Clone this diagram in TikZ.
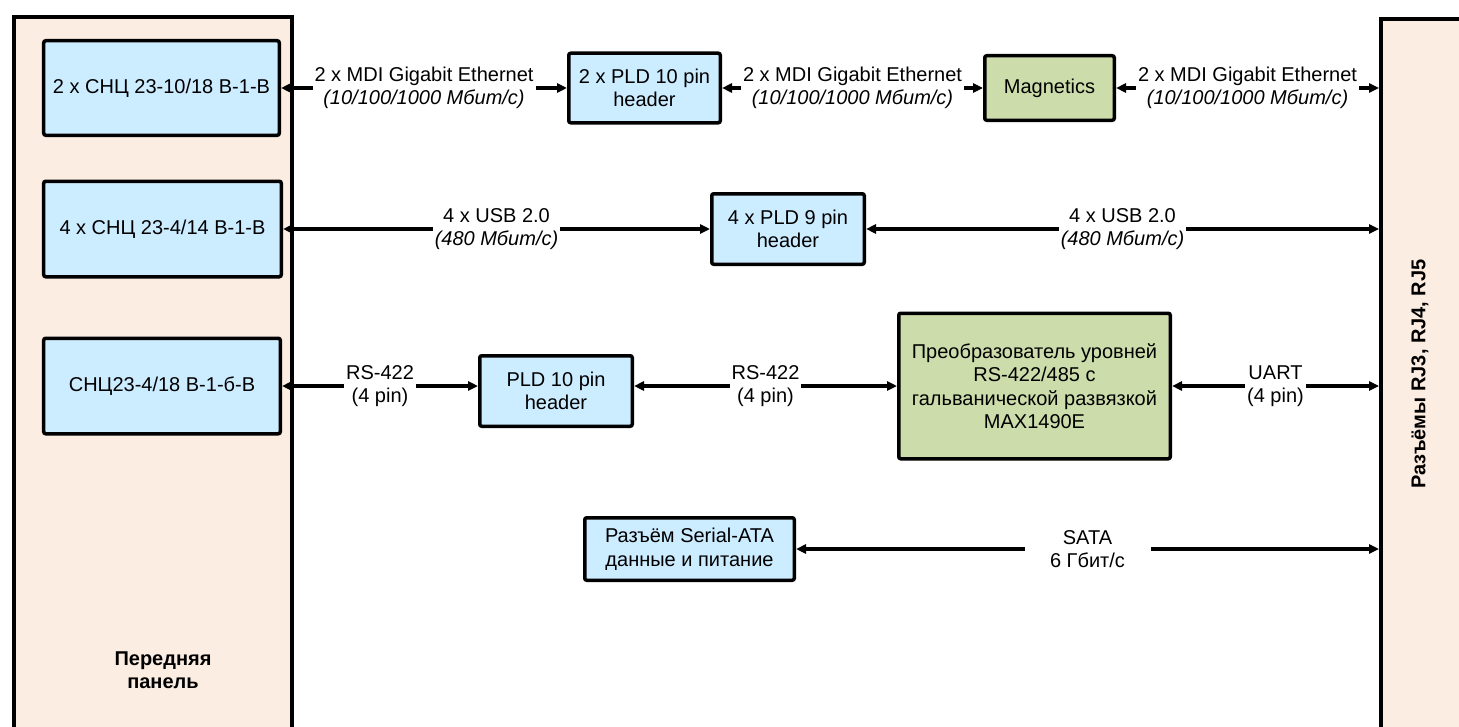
\documentclass[tikz,border=0pt]{standalone}
\usepackage{fontspec}
\setmainfont{Liberation Sans}
\usetikzlibrary{arrows.meta}
\definecolor{peach}{RGB}{252,237,227}
\definecolor{boxblue}{RGB}{204,236,255}
\definecolor{boxgreen}{RGB}{204,220,170}
\begin{document}
\begin{tikzpicture}[x=1bp,y=-1bp,
  every node/.style={font=\fontsize{20bp}{23.5bp}\selectfont},
  panel/.style={fill=peach, inner sep=0pt, outer sep=2bp, anchor=north west},
  panelborder/.style={line width=4bp, line cap=rect},
  bx/.style={draw, line width=3.5bp, fill=boxblue, rounded corners=2bp, align=center, inner sep=0pt},
  gbx/.style={bx, fill=boxgreen},
  lbl/.style={fill=white, inner xsep=2bp, inner ysep=1bp, align=center},
  conn/.style={line width=3.5bp, arrows={Triangle[length=10bp,width=9bp]-Triangle[length=10bp,width=9bp]}}
]
\useasboundingbox (0,0) rectangle (1459,727);
% panels
\node[panel, minimum width=278bp, minimum height=760bp] (lp) at (12,15.5) {};
\draw[panelborder] ([xshift=2bp,yshift=-2bp]lp.south west) |- ([xshift=-2bp,yshift=-2bp]lp.north east) -- ([xshift=-2bp,yshift=2bp]lp.south east);
\node[panel, minimum width=120bp, minimum height=760bp] (rp) at (1379,17) {};
\draw[panelborder] ([xshift=2bp,yshift=2bp]rp.south west) |- ([xshift=-2bp,yshift=-2bp]rp.north east);
\node[font=\bfseries\fontsize{20bp}{23.5bp}\selectfont, align=center] (lptext) at (163,670) {Передняя\\панель};
\node[font=\bfseries\fontsize{20bp}{23.5bp}\selectfont, rotate=90] (rptext) at (1420,374) {Разъёмы RJ3, RJ4, RJ5};
% left boxes
\node[bx, minimum width=235.5bp, minimum height=94.5bp] (b1) at (161.5,88) {2 x СНЦ 23-10/18 В-1-В};
\node[bx, minimum width=237.5bp, minimum height=95.5bp] (b2) at (162.5,229) {4 x СНЦ 23-4/14 В-1-В};
\node[bx, minimum width=236.5bp, minimum height=95.5bp] (b3) at (162,386) {СНЦ23-4/18 В-1-б-В};
% inner boxes
\node[bx, minimum width=151.5bp, minimum height=69.5bp] (pld1) at (644.5,88) {2 x PLD 10 pin\\header};
\node[gbx, minimum width=129.5bp, minimum height=64.5bp] (mag) at (1049.5,88) {Magnetics};
\node[bx, minimum width=152.5bp, minimum height=70.5bp] (usb) at (788,229) {4 x PLD 9 pin\\header};
\node[bx, minimum width=152.5bp, minimum height=70.5bp] (pld3) at (556,391) {PLD 10 pin\\header};
\node[gbx, minimum width=271.5bp, minimum height=145.5bp] (conv) at (1034.5,386) {Преобразователь уровней\\RS-422/485 с\\гальванической развязкой\\MAX1490E};
\node[bx, minimum width=209.5bp, minimum height=62.5bp] (sata) at (689.5,549) {Разъём Serial-ATA\\данные и питание};
% row 1
\draw[conn] (b1.east) -- node[lbl] {2 x MDI Gigabit Ethernet\\\textit{(10/100/1000 Мбит/с)}} (pld1.west);
\draw[conn] (pld1.east) -- node[lbl] {2 x MDI Gigabit Ethernet\\\textit{(10/100/1000 Мбит/с)}} (mag.west);
\draw[conn] (mag.east) -- node[lbl] {2 x MDI Gigabit Ethernet\\\textit{(10/100/1000 Мбит/с)}} (mag -| rp.west);
% row 2
\draw[conn] (b2.east) -- node[lbl] {4 x USB 2.0\\\textit{(480 Мбит/с)}} (usb.west);
\draw[conn] (usb.east) -- node[lbl] {4 x USB 2.0\\\textit{(480 Мбит/с)}} (usb -| rp.west);
% row 3
\draw[conn] (b3.east) -- node[lbl] {RS-422\\(4 pin)} (b3 -| pld3.west);
\draw[conn] (b3 -| pld3.east) -- node[lbl] {RS-422\\(4 pin)} (conv.west);
\draw[conn] (conv.east) -- node[lbl] {UART\\(4 pin)} (conv -| rp.west);
% sata
\draw[conn] (sata.east) -- node[lbl, minimum width=126bp] {SATA\\6 Гбит/с} (sata -| rp.west);
\end{tikzpicture}
\end{document}
